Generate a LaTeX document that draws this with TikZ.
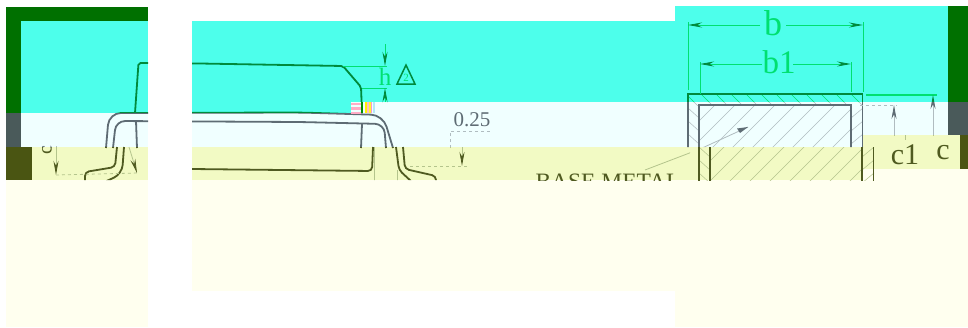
\documentclass[tikz,border=0pt]{standalone}
\usepackage{fontspec}
\setmainfont{Liberation Serif}
\usetikzlibrary{arrows.meta}
\definecolor{cCyan}{HTML}{4DFFEB}
\definecolor{cPale}{HTML}{F0FFFF}
\definecolor{cYel}{HTML}{F2FAC4}
\definecolor{cIvory}{HTML}{FFFFEF}
\definecolor{cDGreen}{HTML}{007000}
\definecolor{cGrey}{HTML}{4A5A5A}
\definecolor{cOlive}{HTML}{4A5512}
\tikzset{
  mainline/.style={draw=artmain,line width=1.8pt,rounded corners=2pt},
  dimline/.style={draw=artdim,line width=.8pt},
  dimarrow/.style={draw=artdim,line width=.8pt,-{Stealth[length=14pt,width=5pt,color=artmain]}},
  hatchline/.style={draw=artdim,line width=.5pt},
  dimtext/.style={text=artdim,inner sep=0pt}
}
% left and middle drawing
\newcommand{\artPackage}{%
  \draw[mainline] (135,113) -- (138.5,63) -- (200,63.5) -- (343,66) -- (361,87) -- (362,113);
  \draw[mainline,rounded corners=12pt] (106,148) -- (109,113) -- (300,112.5) -- (383,115) -- (393,148);
  \draw[mainline,rounded corners=9pt] (113,148) -- (116,121) -- (300,122) -- (384,124) -- (386,148);
  \draw[mainline,rounded corners=1pt] (136,121) -- (137,148);
  \draw[mainline,rounded corners=1pt] (362,124) -- (361,148);
  \draw[mainline,rounded corners=4pt] (117,147) -- (115,167) -- (85,172) -- (85,181);
  \draw[mainline,rounded corners=9pt] (124,147) -- (122,174) -- (100,184);
  \draw[mainline,rounded corners=4pt] (192,169) -- (372,171) -- (373,147);
  \draw[mainline,rounded corners=4pt] (396,147) -- (399,170) -- (412,182);
  \draw[mainline,rounded corners=4pt] (403,147) -- (405,169) -- (436,176) -- (436,181);
  \draw[dimline] (374,147) -- (374,181);
  \draw[dimline] (397,170) -- (397,181);
  \draw[dimarrow] (56,146) -- (56,175);
  \draw[dimline,dashed] (56,175) -- (138,173);
  \draw[dimarrow] (129,147) -- (137,173);
  \node[dimtext,rotate=90,font=\fontsize{20}{20}\selectfont,text=artmain] (leftc) at (47,150) {c};
  % dimensions of the middle
  \draw[dimline] (343,66) -- (387,66);
  \draw[dimline] (362,88) -- (387,88);
  \draw[dimarrow] (385,44) -- (385,66);
  \draw[dimarrow] (385,102) -- (385,88);
  \node[dimtext,font=\fontsize{25}{25}\selectfont] (hlabel) at (385,77) {h};
  \draw[draw=artmain,line width=1.5pt] (406,65) -- (415,84) -- (397,84) -- cycle;
  \node[dimtext,font=\fontsize{11}{11}\selectfont] (tri) at (406,78) {2};
  \node[dimtext,font=\fontsize{21}{21}\selectfont,text=artmain] (val) at (472,119.5) {0.25};
  \draw[dimline,dashed] (450,148) -- (450,131) -- (492,131);
  \draw[dimarrow] (462,147) -- (462,166);
  \draw[dimline,dashed] (410,166) -- (468,166);
  \node[dimtext,font=\fontsize{23.5}{23.5}\selectfont,text=artmain] (base) at (608,182) {BASE METAL};
  \draw[dimline] (645,170) -- (700,149);
  \draw[dimline] (700,149) -- (748,127);
  \draw[draw=none,fill=artmain] (748,127) -- (737,128.5) -- (740,133) -- cycle;
}
% section of the lead, redrawn in each band
\newcommand{\artSection}{%
  \begin{scope}
    \clip (699,105) rectangle (851,340);
    \foreach \k in {-10,...,20} {\draw[hatchline] (680+\k*20,280) -- (880+\k*20,80);}
  \end{scope}
  \begin{scope}
    \clip (688,94) rectangle (863,105);
    \foreach \k in {0,...,12} {\draw[hatchline] (684+\k*15,92) -- (698+\k*15,106);}
  \end{scope}
  \foreach \k in {0,...,9} {
    \draw[hatchline] (688,108+\k*13) -- (699,118+\k*13);
    \draw[hatchline] (863,108+\k*13) -- (851,118+\k*13);
  }
  \draw[draw=artmain,line width=1.8pt] (688,340) -- (688,94) -- (862.5,94) -- (862.5,340);
  \draw[draw=artmain,line width=1.8pt] (699,340) -- (699,105) -- (851,105) -- (851,340);
  \draw[dimline] (688,22) -- (688,90);
  \draw[dimline] (863,22) -- (863,92);
  \draw[dimarrow] (760,25) -- (688,25);
  \draw[dimarrow] (786,25) -- (863,25);
  \draw[dimline] (700,62) -- (700,94);
  \draw[dimline] (851,62) -- (851,92);
  \draw[dimarrow] (762,64) -- (700,64);
  \draw[dimarrow] (793,64) -- (851,64);
}
\newcommand{\artDims}{%
  \node[dimtext,font=\fontsize{36}{36}\selectfont] (blabel) at (773,23) {b};
  \node[dimtext,font=\fontsize{33}{33}\selectfont] (bonelabel) at (779,62) {b1};
  \draw[dimline,line width=1.1pt] (866,95) -- (937,95);
  \draw[dimline,dashed] (860,105) -- (897,105);
  \draw[dimarrow] (894,136) -- (894,105);
  \draw[dimarrow] (933,136) -- (933,95);
  \draw[dimline] (905,135) -- (905,140);
  \node[dimtext,font=\fontsize{30}{30}\selectfont,text=artmain] (clabel) at (905,155) {c1};
  \node[dimtext,font=\fontsize{30}{30}\selectfont,text=artmain] (cclabel) at (943,153) {c};
}
\begin{document}
\begin{tikzpicture}[x=1pt,y=-1pt]
\useasboundingbox (0,0) rectangle (968,327);
% backgrounds
\fill[white] (0,0) rectangle (968,327);
\fill[cIvory] (6,180) rectangle (148,327);
\fill[cIvory] (192,180) rectangle (675,291);
\fill[cIvory] (675,180) rectangle (968,327);
\fill[cIvory] (863,169) rectangle (968,180);
\fill[cDGreen] (6,7) rectangle (148,21);
\fill[cDGreen] (6,21) rectangle (21,113);
\fill[cGrey] (6,113) rectangle (21,147);
\fill[cOlive] (6,147) rectangle (32,180);
\fill[cCyan] (21,21) rectangle (148,113);
\fill[cPale] (21,113) rectangle (148,147);
\fill[cYel] (32,147) rectangle (148,180);
\fill[cCyan] (192,21) rectangle (351,113);
\fill[cCyan] (351,21) rectangle (675,102);
\fill[cCyan] (675,6) rectangle (948,102);
\fill[cPale] (192,113) rectangle (351,147);
\fill[cPale] (351,102) rectangle (863,147);
\fill[cPale] (863,102) rectangle (948,135);
\fill[cYel] (192,147) rectangle (863,180);
\fill[cYel] (863,135) rectangle (960,169);
\fill[cDGreen] (948,6) rectangle (968,102);
\fill[cGrey] (948,102) rectangle (968,135);
\fill[cOlive] (960,135) rectangle (968,169);
% cyan band
\definecolor{artmain}{HTML}{008A3C}\definecolor{artdim}{HTML}{00E070}
\begin{scope}
  \clip (21,21) rectangle (148,113) (192,21) rectangle (351,113) (351,21) rectangle (675,102) (675,6) rectangle (948,102);
  \artPackage\artSection\artDims
\end{scope}
% pale band
\definecolor{artmain}{HTML}{5E6C74}\definecolor{artdim}{HTML}{B0BCC0}
\begin{scope}
  \clip (21,113) rectangle (148,147) (192,113) rectangle (351,147) (351,102) rectangle (863,147) (863,102) rectangle (948,135);
  \artPackage\artSection\artDims
\end{scope}
% yellow band
\definecolor{artmain}{HTML}{4F5A20}\definecolor{artdim}{HTML}{B4C48C}
\begin{scope}
  \clip (32,147) rectangle (148,180) (192,147) rectangle (690,180);
  \artPackage
\end{scope}
\begin{scope}
  \clip (697,147) rectangle (875,180);
  \begin{scope}[xshift=11pt]\artSection\end{scope}
\end{scope}
\begin{scope}
  \clip (863,135) rectangle (960,169);
  \artDims
\end{scope}
% colour noise
\fill[cPale] (351,102) rectangle (380,113);
\fill[pink!90!magenta] (351,103) rectangle (361,105);
\fill[pink!90!magenta] (351,107) rectangle (361,110);
\fill[pink!90!magenta] (351,112) rectangle (361,113.5);
\fill[cDGreen!80!green] (361,102) rectangle (363,113);
\fill[yellow] (365,102) rectangle (367,113);
\fill[pink] (367,102) rectangle (369,113);
\fill[yellow!80!white] (369,102) rectangle (371,113);
\fill[magenta!40] (371,102) rectangle (372,113);
\fill[cyan!30] (373,102) rectangle (375,113);
\end{tikzpicture}
\end{document}
